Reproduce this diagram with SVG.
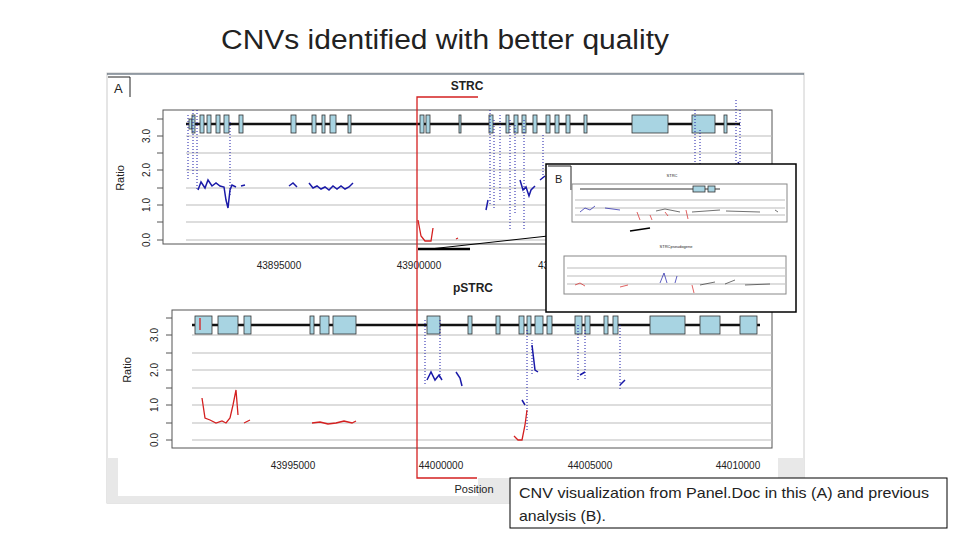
<svg xmlns="http://www.w3.org/2000/svg" width="960" height="540" viewBox="0 0 960 540">
<style>
.t{font-family:"Liberation Sans",Arial,sans-serif;fill:#222}
.ax{fill:none;stroke:#555;stroke-width:1}
.g{stroke:#bbb;stroke-width:1}
.gb{fill:#a8d4e2;stroke:#333;stroke-width:0.8}
.b{fill:none;stroke:#1a1aa8;stroke-width:1.5}
.bd{fill:none;stroke:#1a1aa8;stroke-width:1;stroke-dasharray:1 2}
.r{fill:none;stroke:#d42020;stroke-width:1.3}
.tk{font-size:10px}
</style>
<rect width="960" height="540" fill="#fff"/>
<text class="t" x="221" y="49" font-size="27" textLength="448" lengthAdjust="spacingAndGlyphs" font-family="'Open Sans',sans-serif">CNVs identified with better quality</text>
<g id="panelA">
<rect x="107" y="73" width="697" height="430" fill="#fff" stroke="#ccc"/>
<line x1="107" y1="74" x2="804" y2="74" stroke="#3a4a5a"/>
<rect x="107" y="458" width="697" height="45" fill="#e8e8e8"/>
<rect x="118" y="458" width="360" height="38" fill="#fff"/>
<rect x="478" y="458" width="300" height="20" fill="#fff"/>
<path d="M108 77 H130 V97" fill="none" stroke="#222"/>
<text class="t" x="114" y="93" font-size="13">A</text>
<text class="t" x="467" y="90" font-size="12" font-weight="bold" text-anchor="middle">STRC</text>
<rect class="ax" x="163" y="110" width="609" height="134"/>
<g class="g"><line x1="186" y1="240" x2="772" y2="240"/><line x1="186" y1="222" x2="772" y2="222"/><line x1="186" y1="205" x2="772" y2="205"/><line x1="186" y1="188" x2="772" y2="188"/><line x1="186" y1="170" x2="772" y2="170"/><line x1="186" y1="153" x2="772" y2="153"/><line x1="186" y1="136" x2="772" y2="136"/></g>
<g stroke="#555"><line x1="157" y1="240" x2="163" y2="240"/><line x1="157" y1="222" x2="163" y2="222"/><line x1="157" y1="205" x2="163" y2="205"/><line x1="157" y1="188" x2="163" y2="188"/><line x1="157" y1="170" x2="163" y2="170"/><line x1="157" y1="153" x2="163" y2="153"/><line x1="157" y1="136" x2="163" y2="136"/><line x1="157" y1="119" x2="163" y2="119"/></g>
<g class="t tk" text-anchor="middle"><text transform="translate(150 240) rotate(-90)">0.0</text><text transform="translate(150 205) rotate(-90)">1.0</text><text transform="translate(150 170) rotate(-90)">2.0</text><text transform="translate(150 136) rotate(-90)">3.0</text><text transform="translate(124 178) rotate(-90)" font-size="11">Ratio</text>
<text x="279" y="269">43895000</text><text x="419" y="269">43900000</text><text x="549" y="269">4390</text></g>
<line x1="186" y1="124" x2="740" y2="124" stroke="#111" stroke-width="2.5"/>
<g class="gb"><rect x="189" y="119" width="3" height="10"/><rect x="192" y="115" width="3" height="18"/><rect x="200" y="115" width="4" height="18"/><rect x="207" y="115" width="4" height="18"/><rect x="216" y="115" width="4" height="18"/><rect x="224" y="115" width="5" height="18"/><rect x="239" y="115" width="4" height="18"/><rect x="291" y="115" width="5" height="18"/><rect x="312" y="115" width="4" height="18"/><rect x="322" y="115" width="3" height="18"/><rect x="330" y="115" width="6" height="18"/><rect x="348" y="115" width="3" height="18"/><rect x="420" y="115" width="4" height="18"/><rect x="426" y="115" width="4" height="18"/><rect x="459" y="115" width="2" height="18"/><rect x="489" y="115" width="4" height="18"/><rect x="506" y="115" width="3" height="18"/><rect x="514" y="115" width="4" height="18"/><rect x="522" y="115" width="4" height="18"/><rect x="533" y="115" width="4" height="18"/><rect x="546" y="115" width="4" height="18"/><rect x="555" y="115" width="4" height="18"/><rect x="566" y="115" width="4" height="18"/><rect x="584" y="115" width="3" height="18"/><rect x="632" y="115" width="36" height="18"/><rect x="692" y="115" width="23" height="18"/><rect x="724" y="115" width="3" height="18"/></g>
<g class="bd"><path d="M188 115 V180 M193 110 V175 M197 110 V190 M230 122 V195 M490 110 V205 M494 120 V210 M500 115 V200 M510 120 V230 M515 125 V215 M524 120 V230 M543 135 V180 M695 110 V170 M700 130 V175 M736 100 V180 M740 110 V175"/></g>
<path class="b" d="M198 190 L201 182 205 188 208 180 212 186 216 183 220 186 224 187 226 200 228 208 230 190 232 185 236 187 M241 186 L245 185 M289 186 L293 183 297 187 M309 183 L313 188 317 186 321 189 325 187 329 190 333 186 337 189 341 186 345 189 349 187 353 183 M486 210 L488 200 M520 180 L523 190 526 187 529 196 531 190 535 186 M540 180 L545 176 M680 165 L690 175 M738 162 L742 170"/>
<path class="r" d="M418 220 L421 236 425 241 431 241 433 228 M456 239 L458 238 M635 186 L640 200"/>
<text class="t" x="473" y="292" font-size="12" font-weight="bold" text-anchor="middle">pSTRC</text>
<rect class="ax" x="172" y="310" width="600" height="138"/>
<g class="g"><line x1="192" y1="440" x2="772" y2="440"/><line x1="192" y1="423" x2="772" y2="423"/><line x1="192" y1="405" x2="772" y2="405"/><line x1="192" y1="388" x2="772" y2="388"/><line x1="192" y1="370" x2="772" y2="370"/><line x1="192" y1="353" x2="772" y2="353"/><line x1="192" y1="335" x2="772" y2="335"/></g>
<g stroke="#555"><line x1="166" y1="440" x2="172" y2="440"/><line x1="166" y1="423" x2="172" y2="423"/><line x1="166" y1="405" x2="172" y2="405"/><line x1="166" y1="388" x2="172" y2="388"/><line x1="166" y1="370" x2="172" y2="370"/><line x1="166" y1="353" x2="172" y2="353"/><line x1="166" y1="335" x2="172" y2="335"/><line x1="166" y1="318" x2="172" y2="318"/></g>
<g class="t tk" text-anchor="middle"><text transform="translate(158 440) rotate(-90)">0.0</text><text transform="translate(158 405) rotate(-90)">1.0</text><text transform="translate(158 370) rotate(-90)">2.0</text><text transform="translate(158 335) rotate(-90)">3.0</text><text transform="translate(131 370) rotate(-90)" font-size="11">Ratio</text>
<text x="293" y="469">43995000</text><text x="441" y="469">44000000</text><text x="590" y="469">44005000</text><text x="738" y="469">44010000</text><text x="474" y="493" font-size="11">Position</text></g>
<line x1="192" y1="325" x2="760" y2="325" stroke="#111" stroke-width="2.5"/>
<g class="gb"><rect x="195" y="316" width="17" height="18"/><rect x="218" y="316" width="20" height="18"/><rect x="244" y="316" width="7" height="18"/><rect x="310" y="316" width="4" height="18"/><rect x="320" y="316" width="9" height="18"/><rect x="333" y="316" width="23" height="18"/><rect x="427" y="316" width="13" height="18"/><rect x="468" y="316" width="4" height="18"/><rect x="496" y="316" width="4" height="18"/><rect x="519" y="316" width="5" height="18"/><rect x="527" y="316" width="4" height="18"/><rect x="535" y="316" width="8" height="18"/><rect x="547" y="316" width="5" height="18"/><rect x="575" y="316" width="7" height="18"/><rect x="585" y="316" width="5" height="18"/><rect x="604" y="316" width="4" height="18"/><rect x="613" y="316" width="5" height="18"/><rect x="650" y="316" width="35" height="18"/><rect x="700" y="316" width="20" height="18"/><rect x="740" y="316" width="17" height="18"/></g>
<g class="bd"><path d="M425 320 V385 M440 320 V380 M527 330 V430 M532 340 V375 M578 325 V380 M585 330 V380 M620 325 V390"/></g>
<path class="b" d="M427 380 L431 372 435 380 439 375 442 380 M456 372 L460 378 462 386 M522 400 L525 405 M532 345 L535 370 538 372 M580 375 L585 372 M620 385 L625 380"/>
<path class="r" d="M200 318 V330 M202 398 L205 418 210 420 216 423 222 421 226 423 230 418 233 405 236 390 238 415 M244 423 L250 420 M312 423 L320 422 328 424 336 423 344 421 352 423 356 421 M514 436 L518 440 522 440 525 425 527 410"/>
<path d="M478 97 H417 V478 H477" fill="none" stroke="#d42020" stroke-width="1.3"/>
<line x1="418" y1="249" x2="470" y2="249" stroke="#000" stroke-width="2.5"/>
<polyline points="430,249 548,236" fill="none" stroke="#000" stroke-width="1"/>
</g>
<g id="insetB">
<rect x="546" y="164" width="250" height="148" fill="#fff" stroke="#000" stroke-width="1.5"/>
<path d="M548 166 H571 V190" fill="none" stroke="#222"/>
<text class="t" x="555" y="183" font-size="11">B</text>
<text class="t" x="672" y="177" font-size="4" text-anchor="middle">STRC</text>
<rect x="572" y="184" width="215" height="38" fill="#fff" stroke="#888"/>
<g class="g" stroke-width="0.5"><line x1="575" y1="200" x2="785" y2="200"/><line x1="575" y1="208" x2="785" y2="208"/><line x1="575" y1="215" x2="785" y2="215"/></g>
<line x1="580" y1="189" x2="720" y2="189" stroke="#333"/>
<g class="gb" stroke-width="0.5"><rect x="693" y="186" width="12" height="6"/><rect x="708" y="186" width="7" height="6"/></g>
<path fill="none" stroke="#1a1aa8" stroke-width="0.7" d="M580 212 L585 208 590 210 595 206 M605 208 L620 210"/>
<path fill="none" stroke="#333" stroke-width="0.7" d="M656 211 L665 209 680 212 M692 212 L720 210 M726 211 L760 212 M775 210 L778 212"/>
<path fill="none" stroke="#d42020" stroke-width="0.7" d="M637 212 L640 220 M650 215 L652 220 M665 212 L668 216 M686 210 L688 219"/>
<path d="M630 231 L650 228" stroke="#000" stroke-width="1.5"/>
<text class="t" x="676" y="248" font-size="4" text-anchor="middle">STRCpseudogene</text>
<rect x="564" y="256" width="222" height="38" fill="#fff" stroke="#888"/>
<g class="g" stroke-width="0.5"><line x1="567" y1="268" x2="785" y2="268"/><line x1="567" y1="276" x2="785" y2="276"/><line x1="567" y1="284" x2="785" y2="284"/></g>
<path fill="none" stroke="#d42020" stroke-width="0.7" d="M575 285 L580 283 585 286 M620 287 L628 285 M692 285 L694 293"/>
<path fill="none" stroke="#1a1aa8" stroke-width="0.7" d="M660 283 L664 273 667 283 M675 283 L677 276"/>
<path fill="none" stroke="#333" stroke-width="0.7" d="M700 285 L715 282 M725 284 L735 280 M745 285 L770 284"/>
</g>
<g id="caption">
<rect x="510" y="478" width="437" height="50" fill="#fff" stroke="#000"/>
<text class="t" x="519" y="498" font-size="15" textLength="410" lengthAdjust="spacingAndGlyphs" font-family="'Open Sans',sans-serif">CNV visualization from Panel.Doc in this (A) and previous</text>
<text class="t" x="519" y="521" font-size="15" textLength="87" lengthAdjust="spacingAndGlyphs" font-family="'Open Sans',sans-serif">analysis (B).</text>
</g>
</svg>
